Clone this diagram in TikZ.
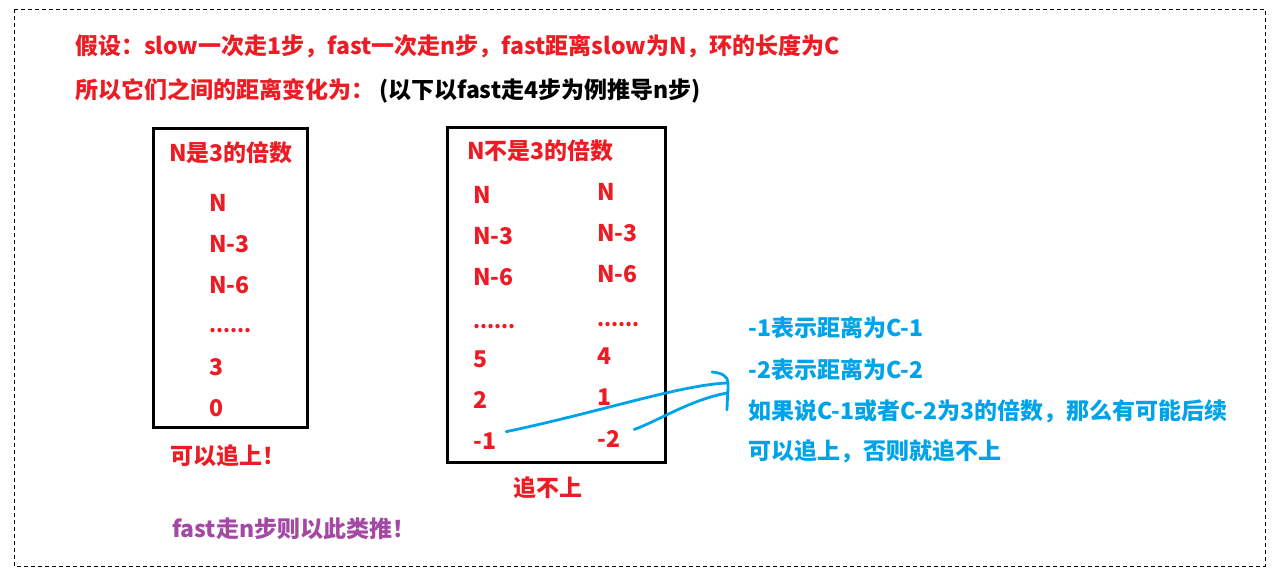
\documentclass[tikz,border=0pt]{standalone}
\usepackage{fontspec}
\setmainfont{Noto Sans CJK SC}
\usetikzlibrary{calc}
\definecolor{pred}{HTML}{ED1C24}
\definecolor{pblue}{HTML}{00A2E8}
\definecolor{ppurple}{HTML}{A349A4}
\newcommand\myfs{\fontsize{23}{27}\selectfont\bfseries}
\newcommand\dotfs{\fontsize{20}{24}\selectfont\bfseries}
\begin{document}
\begin{tikzpicture}[x=1pt,y=-1pt,
  txt/.style={inner sep=0pt, anchor=base west, font=\myfs},
  redt/.style={txt, text=pred},
  dots/.style={redt, font=\dotfs},
  bluet/.style={txt, text=pblue},
  panel/.style={draw=black, line width=3pt, anchor=north west, inner sep=0pt},
  stroke/.style={draw=pblue, line width=2.8pt, line cap=round, line join=round}]
\useasboundingbox (0,0) rectangle (1283,577);
\draw[line width=0.9pt, dash pattern=on 4pt off 3pt] (14,9) rectangle (1265,566);

% header
\node[redt] (l1) at (75,55) {假设：slow一次走1步，fast一次走n步，fast距离slow为N，环的长度为C};
\node[redt] (l2) at (75,99) {所以它们之间的距离变化为：};
\node[txt, text=black] (l2b) at (379,99) {(以下以fast走4步为例推导n步)};

% box 1
\node[panel, minimum width=154pt, minimum height=299pt] (box1) at (152,127) {};
\node[redt] (h1) at (169,162) {N是3的倍数};
\node[redt] (a1) at (209,212) {N};
\node[redt] (a2) at (209,253) {N-3};
\node[redt] (a3) at (209,294) {N-6};
\node[dots] (a4) at (209,333) {......};
\node[redt] (a5) at (209,376) {3};
\node[redt] (a6) at (209,416) {0};
\node[redt] (ok) at (170,464) {可以追上！};

% box 2
\node[panel, minimum width=218pt, minimum height=335pt] (box2) at (446,126) {};
\node[redt] (h2) at (467,160) {N不是3的倍数};
\node[redt] (b1) at (473,204) {N};
\node[redt] (b2) at (473,245) {N-3};
\node[redt] (b3) at (473,286) {N-6};
\node[dots] (b4) at (473,329) {......};
\node[redt] (b5) at (473,367) {5};
\node[redt] (b6) at (473,409) {2};
\node[redt] (b7) at (473,449) {-1};
\node[redt] (c1) at (597,201) {N};
\node[redt] (c2) at (597,242) {N-3};
\node[redt] (c3) at (597,283) {N-6};
\node[dots] (c4) at (597,327) {......};
\node[redt] (c5) at (597,365) {4};
\node[redt] (c6) at (597,406) {1};
\node[redt] (c7) at (597,447) {-2};
\node[redt, anchor=base] (no) at (548,496) {追不上};

% blue notes
\node[bluet] (n1) at (748,337) {-1表示距离为C-1};
\node[bluet] (n2) at (748,378) {-2表示距离为C-2};
\node[bluet] (n3) at (748,419) {如果说C-1或者C-2为3的倍数，那么有可能后续};
\node[bluet] (n4) at (748,459) {可以追上，否则就追不上};

% purple
\node[txt, text=ppurple] (pp) at (172,537) {fast走n步则以此类推！};

% hand-drawn strokes
\coordinate (s1) at ($(b7.east)+(10,-9)$);
\coordinate (s2) at ($(c7.east)+(14,-9)$);
\coordinate (tip1) at (727,383);
\coordinate (tip2) at (727,393);
\coordinate (hd1) at (712,372);
\coordinate (hd2) at (727,410);
\path[stroke] (s1) .. controls (600,412) and (680,385) .. (tip1);
\path[stroke] (s2) .. controls (660,420) and (690,400) .. (tip2);
\path[stroke] (hd1) .. controls (722,373) and (728,376) .. (728,383) .. controls (728,395) and (727,403) .. (hd2);
\end{tikzpicture}
\end{document}
